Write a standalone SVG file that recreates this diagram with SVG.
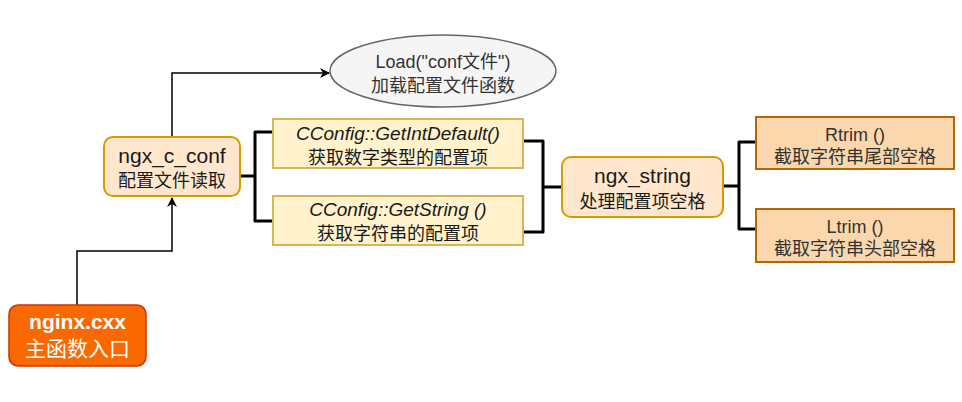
<svg xmlns="http://www.w3.org/2000/svg" width="962" height="402" viewBox="0 0 962 402">
<style>
text{font-family:"Liberation Sans","Noto Sans CJK SC",sans-serif;text-anchor:middle;fill:#1a1a1a;font-size:18px}
.t{font-size:21px}
.w{fill:#fff}
.b{font-weight:bold}
.i{font-style:italic;font-size:19px}
.g{fill:#333}
.main{fill:#fa6800;stroke:#c73500;stroke-width:1.5}
.proc{fill:#ffe6cc;stroke:#d79b00;stroke-width:2}
.fn{fill:#fff2cc;stroke:#d6b656;stroke-width:2}
.trim{fill:#fad7ac;stroke:#b46504;stroke-width:2}
.ell{fill:#f5f5f5;stroke:#666;stroke-width:1.5}
.arr{fill:none;stroke:#000;stroke-width:1.5}
.br{fill:none;stroke:#000;stroke-width:3;stroke-linejoin:round}
</style>
<defs>
<marker id="ah" viewBox="0 0 10 10" refX="9" refY="5" markerWidth="10" markerHeight="10" markerUnits="userSpaceOnUse" orient="auto">
<path d="M0,0 L10,5 L0,10 L3,5 Z" fill="#000"/>
</marker>
</defs>
<g id="connectors">
<path class="arr" d="M77,305 V251 H172 V198" marker-end="url(#ah)"/>
<path class="arr" d="M172,137 V73 H329" marker-end="url(#ah)"/>
<path class="br" d="M240,176 H255 M273,132 H255 V221 H273"/>
<path class="br" d="M523,141 H543 V232 H523 M543,187 H563"/>
<path class="br" d="M723,186 H739 M756,142 H739 V229 H756"/>
</g>
<g id="nginx">
<rect class="main" x="9" y="305" width="137" height="61" rx="9"/>
<text class="t w b" x="77.5" y="329">nginx.cxx</text>
<text class="t w" x="77.5" y="356">主函数入口</text>
</g>
<g id="ngx_c_conf">
<rect class="proc" x="104" y="137" width="136" height="59" rx="9"/>
<text class="t" x="172" y="163">ngx_c_conf</text>
<text x="172" y="187">配置文件读取</text>
</g>
<g id="load">
<ellipse class="ell" cx="443" cy="71" rx="113" ry="36"/>
<text class="g" x="443" y="68">Load("conf文件")</text>
<text class="g" x="443" y="92">加载配置文件函数</text>
</g>
<g id="getint">
<rect class="fn" x="273" y="119" width="250" height="49"/>
<text class="i" x="398" y="140">CConfig::GetIntDefault()</text>
<text x="398" y="164">获取数字类型的配置项</text>
</g>
<g id="getstring">
<rect class="fn" x="273" y="196" width="250" height="49"/>
<text class="i" x="398" y="216">CConfig::GetString ()</text>
<text x="398" y="240">获取字符串的配置项</text>
</g>
<g id="ngx_string">
<rect class="proc" x="562" y="157" width="161" height="60" rx="9"/>
<text class="t" x="642.5" y="183">ngx_string</text>
<text x="642.5" y="208">处理配置项空格</text>
</g>
<g id="rtrim">
<rect class="trim" x="756" y="117" width="198" height="52"/>
<text class="g" x="855" y="141">Rtrim ()</text>
<text class="g" x="855" y="163">截取字符串尾部空格</text>
</g>
<g id="ltrim">
<rect class="trim" x="756" y="209" width="198" height="53"/>
<text class="g" x="855" y="233">Ltrim ()</text>
<text class="g" x="855" y="255">截取字符串头部空格</text>
</g>
</svg>
